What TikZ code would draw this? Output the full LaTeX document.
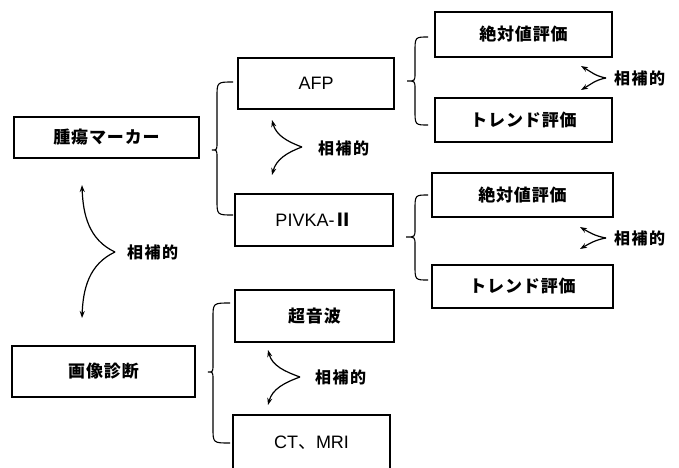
\documentclass[tikz,border=0pt]{standalone}
\usepackage{fontspec}
\setmainfont{Liberation Sans}
\newfontfamily\jp{Noto Sans CJK JP}[LetterSpace=5]
\newfontfamily\jpc{Noto Sans CJK JP}[LetterSpace=9]
\newfontfamily\jpn{Noto Sans CJK JP}
\usetikzlibrary{arrows.meta}
\newcommand\mybrace[6]{%
  \draw[bracestyle] (#1,-#4) .. controls (#2,-#4) .. (#2,{-#4-15})
    -- (#2,{-#5+8}) .. controls (#2,-#5) .. (#3,-#5)
    .. controls (#2,-#5) .. (#2,{-#5-8})
    -- (#2,{-#6+15}) .. controls (#2,-#6) .. (#1,-#6);}
\begin{document}
\begin{tikzpicture}[x=1pt,y=1pt,
  box/.style={draw, line width=1.3pt, inner sep=0pt, font=\fontsize{18}{20}\selectfont},
  jtext/.style={font=\fontsize{17}{20}\selectfont\jp\bfseries},
  comptext/.style={font=\fontsize{16}{18}\selectfont\jpc\bfseries, anchor=west, inner sep=0pt},
  comp/.style={line width=1.2pt, -{Stealth[length=7pt,width=5pt]}},
  bracestyle/.style={line width=1.1pt}]
\useasboundingbox (0,0) rectangle (679,-467);
% left boxes
\node[box, jtext, minimum width=185pt, minimum height=41pt] (tumor) at (106.5,-137.5) {腫瘍マーカー};
\node[box, jtext, minimum width=183pt, minimum height=51pt] (image) at (103.5,-371.5) {画像診断};
% middle boxes
\node[box, minimum width=156pt, minimum height=51pt] (afp) at (316,-83.5) {AFP};
\node[box, minimum width=158pt, minimum height=52pt] (pivka) at (314,-220) {PIVKA-{\jpn\bfseries Ⅱ}};
\node[box, jtext, minimum width=159pt, minimum height=52pt] (us) at (314.5,-316) {超音波};
\node[box, minimum width=157pt, minimum height=55pt] (ct) at (311.5,-442.5) {CT{\jpn 、}MRI};
% right boxes
\node[box, jtext, minimum width=177pt, minimum height=45pt] (abs1) at (523.5,-34.5) {絶対値評価};
\node[box, jtext, minimum width=177pt, minimum height=44pt] (tr1) at (523.5,-120) {トレンド評価};
\node[box, jtext, minimum width=181pt, minimum height=44pt] (abs2) at (522.5,-195) {絶対値評価};
\node[box, jtext, minimum width=181pt, minimum height=43pt] (tr2) at (522.5,-286.5) {トレンド評価};
% complementary arrows: main
\coordinate (v0) at (115,-252);
\coordinate (t0a) at (82,-185);
\coordinate (t0b) at (82,-318);
\draw[comp] (v0) to[out=155,in=-88] (t0a);
\draw[comp] (v0) to[out=-155,in=88] (t0b);
\node[comptext] (c0) at (127,-252) {相補的};
% AFP / PIVKA
\coordinate (v1) at (302,-147);
\coordinate (t1a) at (272,-120);
\coordinate (t1b) at (272,-175);
\draw[comp] (v1) to[out=160,in=-75] (t1a);
\draw[comp] (v1) to[out=-160,in=75] (t1b);
\node[comptext] (c1) at (318,-148) {相補的};
% US / CT
\coordinate (v2) at (300,-377);
\coordinate (t2a) at (268,-350);
\coordinate (t2b) at (268,-405);
\draw[comp] (v2) to[out=160,in=-75] (t2a);
\draw[comp] (v2) to[out=-160,in=75] (t2b);
\node[comptext] (c2) at (315,-377) {相補的};
% right 1
\coordinate (v3) at (606,-78);
\coordinate (t3a) at (581,-66);
\coordinate (t3b) at (581,-90);
\draw[comp] (v3) to[out=170,in=-30] (t3a);
\draw[comp] (v3) to[out=-170,in=30] (t3b);
\node[comptext] (c3) at (614,-78) {相補的};
% right 2
\coordinate (v4) at (606,-238);
\coordinate (t4a) at (580,-227);
\coordinate (t4b) at (580,-249);
\draw[comp] (v4) to[out=170,in=-30] (t4a);
\draw[comp] (v4) to[out=-170,in=30] (t4b);
\node[comptext] (c4) at (614,-238) {相補的};
% braces
\mybrace{233}{217}{212}{82}{150}{215}
\mybrace{230}{213}{208}{303}{372}{443}
\mybrace{428}{415}{407}{37}{81}{125}
\mybrace{428}{415}{406}{195}{237}{280}
\end{tikzpicture}
\end{document}
